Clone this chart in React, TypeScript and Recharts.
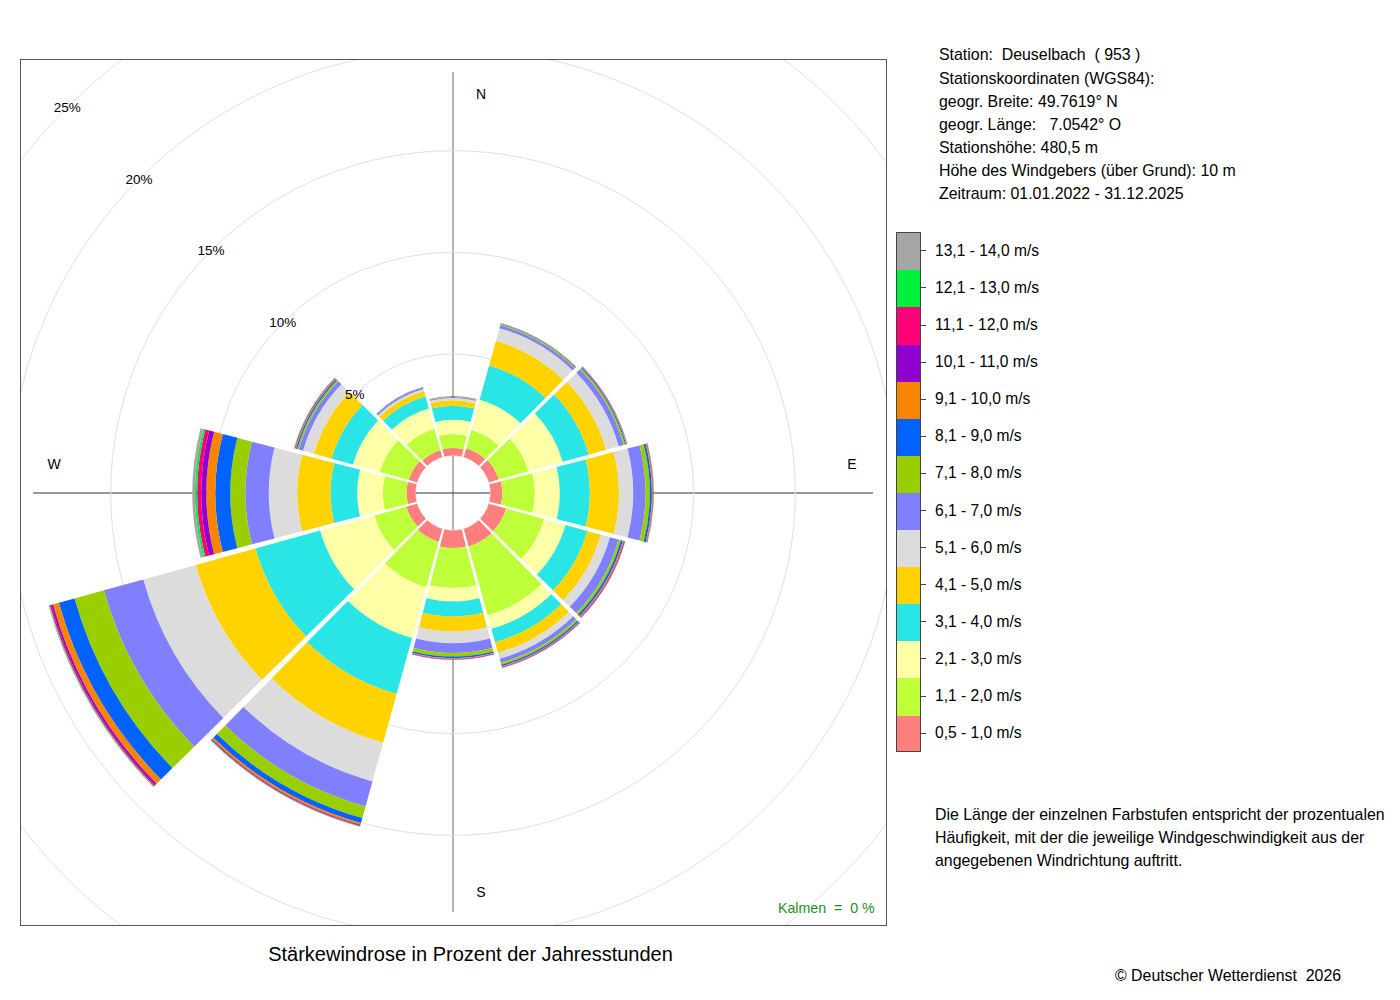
import { RadialBarChart, RadialBar, PolarAngleAxis, PolarRadiusAxis, PolarGrid } from 'recharts';

const FONT = '"Liberation Sans", Arial, Helvetica, sans-serif';

// Windrichtungen (Sektormitte, im Uhrzeigersinn ab Nord)
const directions = ['N', 'NNE', 'ENE', 'E', 'ESE', 'SSE', 'S', 'SSW', 'WSW', 'W', 'WNW', 'NNW'];

const speedClasses = [
  '0,5 - 1,0 m/s', '1,1 - 2,0 m/s', '2,1 - 3,0 m/s', '3,1 - 4,0 m/s', '4,1 - 5,0 m/s',
  '5,1 - 6,0 m/s', '6,1 - 7,0 m/s', '7,1 - 8,0 m/s', '8,1 - 9,0 m/s', '9,1 - 10,0 m/s',
  '10,1 - 11,0 m/s', '11,1 - 12,0 m/s', '12,1 - 13,0 m/s', '13,1 - 14,0 m/s',
];

const classColors = [
  '#FF7F7F', '#BFFF3A', '#FFFFA8', '#2AE5E5', '#FFD200', '#DCDCDC', '#8080FF',
  '#99CE00', '#0062FF', '#F88500', '#9000D0', '#FF0078', '#00F040', '#A6A6A6',
];

// Häufigkeit in % der Jahresstunden je Richtung (Reihenfolge wie directions)
const v05_10 = [0.37, 0.45, 0.50, 0.58, 0.88, 0.90, 0.86, 0.66, 0.55, 0.44, 0.42, 0.35];
const v11_20 = [0.69, 0.95, 1.52, 1.60, 1.95, 3.51, 1.97, 2.32, 1.64, 1.17, 1.48, 1.10];
const v21_30 = [0.70, 1.53, 1.75, 1.23, 1.08, 0.69, 0.66, 2.59, 2.76, 1.26, 1.38, 1.03];
const v31_40 = [0.69, 1.75, 1.33, 1.48, 1.11, 0.69, 0.74, 2.86, 3.30, 1.31, 1.08, 0.62];
const v41_50 = [0.27, 1.26, 0.89, 1.43, 0.69, 0.54, 0.74, 2.49, 3.05, 1.64, 0.91, 0.27];
const v51_60 = [0.11, 0.64, 0.64, 0.70, 0.47, 0.30, 0.57, 1.97, 2.68, 1.40, 0.55, 0.10];
const v61_70 = [0.05, 0.15, 0.25, 0.61, 0.44, 0.20, 0.49, 1.28, 2.01, 1.15, 0.22, 0.07];
const v71_80 = [0.02, 0.04, 0.08, 0.21, 0.12, 0.10, 0.17, 0.59, 1.50, 0.74, 0.08, 0.015];
const v81_90 = [0.01, 0.03, 0.05, 0.10, 0.10, 0.08, 0.08, 0.25, 0.80, 0.74, 0.07, 0.01];
const v91_100 = [0.01, 0.02, 0.03, 0.05, 0.06, 0.04, 0.04, 0.10, 0.30, 0.44, 0.04, 0.005];
const v101_110 = [0.003, 0.01, 0.01, 0.02, 0.03, 0.02, 0.02, 0.04, 0.10, 0.25, 0.02, 0.003];
const v111_120 = [0.002, 0.005, 0.01, 0.01, 0.02, 0.02, 0.01, 0.03, 0.07, 0.20, 0.02, 0.002];
const v121_130 = [0.001, 0.003, 0.005, 0.01, 0.01, 0.01, 0.005, 0.02, 0.03, 0.11, 0.01, 0.001];
const v131_140 = [0.001, 0.002, 0.005, 0.01, 0.01, 0.01, 0.005, 0.01, 0.03, 0.13, 0.01, 0.001];

const pctTicks = [0, 5, 10, 15, 20, 25];

const stationLines = [
  'Station:  Deuselbach  ( 953 )',
  'Stationskoordinaten (WGS84):',
  'geogr. Breite: 49.7619° N',
  'geogr. Länge:   7.0542° O',
  'Stationshöhe: 480,5 m',
  'Höhe des Windgebers (über Grund): 10 m',
  'Zeitraum: 01.01.2022 - 31.12.2025',
];

const noteLines = [
  'Die Länge der einzelnen Farbstufen entspricht der prozentualen',
  'Häufigkeit, mit der die jeweilige Windgeschwindigkeit aus der',
  'angegebenen Windrichtung auftritt.',
];

const seriesValues = [
  v05_10, v11_20, v21_30, v31_40, v41_50, v51_60, v61_70,
  v71_80, v81_90, v91_100, v101_110, v111_120, v121_130, v131_140,
];

const rows = directions.map((dir, i) => {
  const row: Record<string, string | number> = { dir };
  seriesValues.forEach((vals, k) => {
    row[`s${k}`] = vals[i];
  });
  return row;
});

const RAD = Math.PI / 180;
const GAP_DEG = 0.45; // Winkelabstand je Seite
const GAP_PX = 0.8; // fester Abstand je Seite

// Sektor mit schmalen weissen Fugen zwischen den Richtungen
function WedgeShape(props: any) {
  const { cx, cy, innerRadius, outerRadius, startAngle, endAngle, fill } = props;
  if (!(outerRadius > innerRadius)) return <g />;
  const a1 = Math.min(startAngle, endAngle) + GAP_DEG;
  const a2 = Math.max(startAngle, endAngle) - GAP_DEG;
  const pt = (r: number, a: number) =>
    `${cx + r * Math.cos(-a * RAD)},${cy + r * Math.sin(-a * RAD)}`;
  const off = (r: number) => Math.asin(Math.min(1, GAP_PX / r)) / RAD;
  const ri = innerRadius;
  const ro = outerRadius;
  const d =
    `M${pt(ri, a1 + off(ri))} L${pt(ro, a1 + off(ro))} ` +
    `A${ro},${ro} 0 0 0 ${pt(ro, a2 - off(ro))} ` +
    `L${pt(ri, a2 - off(ri))} A${ri},${ri} 0 0 1 ${pt(ri, a1 + off(ri))} Z`;
  return <path d={d} fill={fill} stroke="none" />;
}

function PctTick(props: any) {
  const { x, y, payload } = props;
  if (!payload || payload.value === 0) return <g />;
  return (
    <text x={x} y={y} textAnchor="middle" dominantBaseline="central" fontSize={13.5} fill="#000" fontFamily={FONT}>
      {`${payload.value}%`}
    </text>
  );
}

const text = (extra: React.CSSProperties): React.CSSProperties => ({
  position: 'absolute',
  fontFamily: FONT,
  fontSize: 15.9,
  color: '#000',
  whiteSpace: 'pre',
  ...extra,
});

const compass = [
  { t: 'N', x: 481, y: 94 },
  { t: 'S', x: 481, y: 892 },
  { t: 'W', x: 54, y: 464 },
  { t: 'E', x: 852, y: 464 },
];

export default function App() {
  const boxTop = 232.3;
  const boxH = 37.1;
  return (
    <div style={{ position: 'absolute', left: 0, top: 0, width: 1400, height: 1000, background: '#fff' }}>
      <div
        style={{
          position: 'absolute', left: 20, top: 59, width: 867, height: 867,
          boxSizing: 'border-box', border: '1px solid #555', overflow: 'hidden',
        }}
      >
        <svg width={865} height={865} style={{ position: 'absolute', left: 0, top: 0 }}>
          <line x1={432} y1={12} x2={432} y2={852} stroke="#666" strokeWidth={1} />
          <line x1={12} y1={433} x2={852} y2={433} stroke="#333" strokeWidth={1} />
        </svg>
        <div style={{ position: 'absolute', left: 0, top: 0 }}>
          <RadialBarChart
            width={865}
            height={865}
            data={rows}
            layout="centric"
            cx={432}
            cy={433}
            innerRadius={37.5}
            outerRadius={545.5}
            startAngle={75}
            endAngle={-285}
            barCategoryGap={0}
            barGap={0}
            margin={{ top: 0, right: 0, bottom: 0, left: 0 }}
          >
            <PolarGrid gridType="circle" radialLines={false} stroke="#e0e0e0" strokeWidth={1} />
            <PolarAngleAxis type="category" dataKey="dir" tick={false} axisLine={false} tickLine={false} />
            {seriesValues.map((_, k) => (
              <RadialBar
                key={k}
                dataKey={`s${k}`}
                stackId="wind"
                fill={classColors[k]}
                shape={WedgeShape}
                isAnimationActive={false}
              />
            ))}
            <PolarRadiusAxis
              type="number"
              domain={[0, 25]}
              ticks={pctTicks}
              tickCount={6}
              angle={135}
              axisLine={false}
              tickLine={false}
              tick={PctTick}
            />
          </RadialBarChart>
        </div>
        {compass.map((c) => (
          <div
            key={c.t}
            style={text({ left: c.x - 21 - 20, top: c.y - 60 - 9, width: 40, textAlign: 'center', lineHeight: '18px', fontSize: 14 })}
          >
            {c.t}
          </div>
        ))}
        <div style={text({ left: 778 - 21, top: 908 - 60 - 9, lineHeight: '18px', fontSize: 14.2, color: '#1f8f1f' })}>
          {'Kalmen  =  0 %'}
        </div>
      </div>

      {stationLines.map((l, i) => (
        <div key={l} style={text({ left: 939, top: 43.4 + i * 23.17, lineHeight: '23px' })}>
          {l}
        </div>
      ))}

      <div
        style={{
          position: 'absolute', left: 896, top: boxTop, width: 25, height: boxH * 14,
          boxSizing: 'border-box', border: '1px solid #444', overflow: 'hidden',
        }}
      >
        {speedClasses.map((_, i) => {
          const k = speedClasses.length - 1 - i;
          return <div key={k} style={{ height: boxH, background: classColors[k] }} />;
        })}
      </div>
      {speedClasses.map((label, i) => {
        const k = speedClasses.length - 1 - i;
        const yc = boxTop + boxH * (i + 0.5);
        return (
          <div key={label}>
            <div style={{ position: 'absolute', left: 921, top: yc - 0.5, width: 5, height: 1, background: '#444' }} />
            <div style={text({ left: 935, top: yc - 11, lineHeight: '22px', fontSize: 15.6 })}>{speedClasses[k]}</div>
          </div>
        );
      })}

      {noteLines.map((l, i) => (
        <div key={l} style={text({ left: 935, top: 802.5 + i * 23, lineHeight: '23px' })}>
          {l}
        </div>
      ))}

      <div style={text({ left: 0, width: 941, top: 942, lineHeight: '24px', fontSize: 20, textAlign: 'center' })}>
        Stärkewindrose in Prozent der Jahresstunden
      </div>
      <div style={text({ left: 1115, top: 965, lineHeight: '22px' })}>{'© Deutscher Wetterdienst  2026'}</div>
    </div>
  );
}
